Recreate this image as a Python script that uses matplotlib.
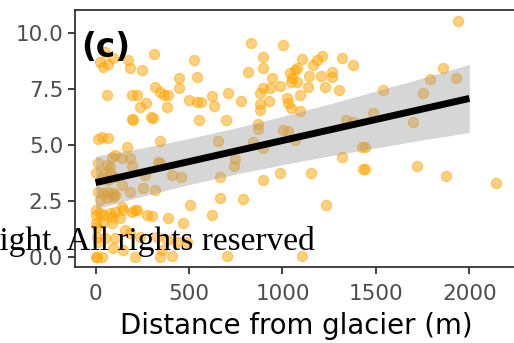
import matplotlib
matplotlib.use("Agg")
import matplotlib.pyplot as plt
import numpy as np

# distance from glacier (m) and response value
distance = [
    50, 23, 39, 66, 93, 173, 184, 248, 312, 526, 542, 446, 446, 317, 344, 366,
    387, 60, 194, 221, 269, 237, 382, 194, 200, 296, 307, 499, 542, 564, 623,
    633, 553, 708, 698, 778, 815, 831,
    1002, 895, 895, 1104, 1163, 1184, 1211, 1318, 1377, 1077, 1066, 1040, 944,
    1142, 1206, 1265, 1265, 1051, 1045, 1077, 986, 933, 895, 879, 928, 1024,
    1029, 1045, 1093, 1136, 1227, 1302, 879, 879, 1093, 868, 868, 1002, 1029,
    1340, 1377, 1484,
    1939, 1860, 1790, 1929, 1752, 1538, 1698, 1441, 1441, 1720, 1875, 2143,
    843, 895, 1066, 1318, 1425, 895, 986, 1152, 1431, 1233, 1104, 746, 741,
    666, 666, 789, 703, 655, 344,
    12, 34, 66, 167, 87, 103, 12, 60, 77, 141, 184, 194, 333, 344, 0, 50, 77,
    103, 34, 66, 141, 264, 408, 457, 12, 39, 66, 93, 103, 184, 253, 317, 23,
    60, 93, 505, 141, 146, 0, 0, 23, 39, 77, 87, 103, 194, 210, 221, 275, 301,
    387, 467, 623, 0, 7, 39, 87, 130, 157, 184, 328, 382, 435, 489, 7, 12, 50,
    103, 237, 0, 7, 34, 93, 355, 408, 210, 344, 146,
]
value = [
    9.15, 8.70, 8.48, 8.62, 8.88, 8.79, 8.44, 8.35, 9.06, 8.79, 8.04, 7.99,
    7.54, 7.59, 7.37, 7.23, 7.23, 7.23, 7.23, 7.23, 6.87, 6.70, 6.70, 6.16,
    6.12, 6.25, 6.21, 7.01, 6.92, 6.92, 7.19, 6.74, 6.12, 7.32, 6.12, 6.96,
    8.26, 9.55,
    9.46, 8.93, 8.44, 8.84, 8.57, 8.79, 8.97, 8.88, 8.57, 8.44, 8.35, 8.21,
    7.99, 8.08, 8.08, 8.26, 8.04, 7.99, 7.81, 7.81, 7.63, 7.54, 7.54, 7.32,
    6.96, 7.10, 6.87, 6.65, 7.23, 7.59, 7.59, 7.45, 6.83, 6.56, 6.52, 5.94,
    5.71, 5.67, 5.63, 6.12, 6.03, 6.43,
    10.54, 8.44, 7.95, 7.99, 7.32, 7.45, 6.03, 4.91, 3.93, 4.06, 3.62, 3.30,
    5.13, 4.87, 5.22, 4.46, 4.91, 3.44, 3.75, 3.75, 3.93, 2.32, 0.04, 4.37,
    4.06, 3.57, 2.63, 2.59, 0.04, 5.18, 5.18,
    5.27, 5.36, 5.31, 4.91, 4.46, 4.55, 4.20, 4.11, 4.02, 4.42, 4.42, 4.06,
    4.24, 4.20, 3.75, 3.79, 3.75, 3.57, 3.53, 3.44, 3.21, 3.66, 3.66, 3.57,
    2.90, 2.86, 2.90, 2.86, 2.77, 2.90, 3.08, 2.99, 2.54, 2.63, 2.68, 2.32,
    2.23, 2.10, 1.87, 2.10, 1.96, 1.87, 1.96, 1.79, 2.01, 2.01, 2.10, 2.10,
    1.87, 1.83, 1.74, 1.52, 1.87, 1.52, 1.34, 1.56, 1.52, 1.74, 1.21, 1.07,
    0.89, 0.76, 0.67, 0.67, 0.89, 0.67, 0.85, 0.85, 0.89, 0.00, 0.00, 0.00,
    0.40, 0.31, 0.04, 0.00, 0.00, 0.31,
]

# fitted line with its confidence band
fit_x = [0, 250, 500, 750, 1000, 1250, 1500, 1750, 2000]
fit_y = [3.32, 3.79, 4.26, 4.73, 5.20, 5.67, 6.14, 6.61, 7.08]
fit_lo = [2.14, 2.71, 3.23, 3.70, 4.12, 4.51, 4.87, 5.23, 5.56]
fit_hi = [4.50, 4.87, 5.29, 5.76, 6.28, 6.83, 7.41, 7.99, 8.60]

x_ticks = [0, 500, 1000, 1500, 2000]
y_ticks = [0.0, 2.5, 5.0, 7.5, 10.0]

fig = plt.figure(figsize=(5.14, 3.43), dpi=100)
ax = fig.add_axes([75 / 514, 76 / 343, 443 / 514, 257 / 343])

ax.scatter(distance, value, s=52, color="#FFA500", alpha=0.5,
           edgecolors="#FFA500", linewidths=1, zorder=2)
ax.fill_between(fit_x, fit_lo, fit_hi, color="#999999", alpha=0.4,
                linewidth=0, zorder=3)
ax.plot(fit_x, fit_y, color="black", linewidth=5, zorder=4,
        solid_capstyle="butt")

ax.set_xlim(-110, 2260)
ax.set_ylim(-0.45, 11.03)
ax.set_xticks(x_ticks)
ax.set_yticks(y_ticks)
ax.set_yticklabels([f"{v:.1f}" for v in y_ticks])
ax.tick_params(axis="both", length=5, width=1.3, color="#333333",
               labelcolor="#4D4D4D", labelsize=15.5)
ax.tick_params(axis="x", pad=7.5)
ax.tick_params(axis="y", pad=3.5)
for sp in ax.spines.values():
    sp.set_color("#333333")
    sp.set_linewidth(1.3)

ax.set_xlabel("Distance from glacier (m)", fontsize=19.8, color="black",
              labelpad=5.5)

ax.text(0.015, 0.92, "(c)", transform=ax.transAxes, fontsize=23.5,
        fontweight="bold", va="top", ha="left", zorder=5)

# watermark overlapping the lower left of the panel
fig.text(315 / 514, 93 / 343, "Copyright. All rights reserved",
         ha="right", va="baseline", fontsize=24,
         fontfamily="Liberation Serif", color="black", zorder=10)

fig.savefig("out.png", dpi=100)
